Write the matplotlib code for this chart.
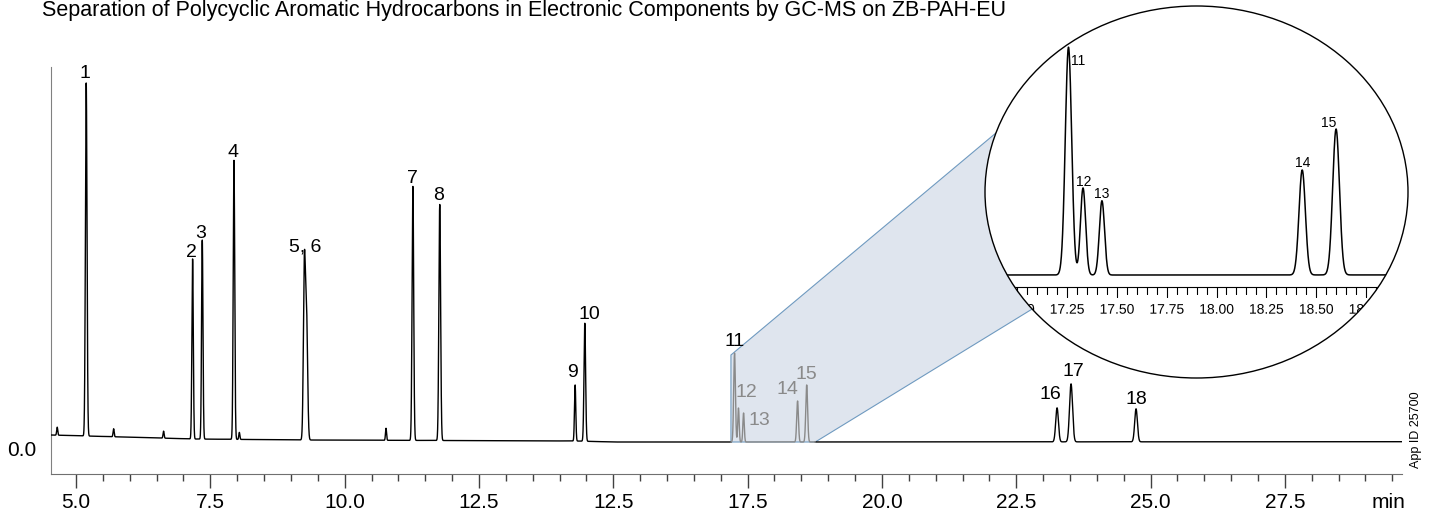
import numpy as np
import matplotlib.pyplot as plt
from matplotlib.patches import Ellipse, Polygon
import matplotlib.patheffects as pe

plt.rcParams['font.family'] = ['Liberation Sans', 'DejaVu Sans']

title = "Separation of Polycyclic Aromatic Hydrocarbons in Electronic Components by GC-MS on ZB-PAH-EU"

# numbered peaks: retention time (min), height above baseline, sigma (min)
peak_times = [5.19, 7.17, 7.35, 7.94, 9.25, 9.29, 11.27, 11.77, 14.29, 14.47,
              17.257, 17.33, 17.425, 18.43, 18.60, 23.26, 23.52, 24.73]
peak_heights = [353, 180, 199, 279, 170, 125, 254, 236, 56, 118,
                89, 34, 29, 41, 57, 34, 58, 33]
peak_widths = [0.015, 0.013, 0.013, 0.014, 0.018, 0.02, 0.015, 0.016, 0.012, 0.015,
               0.016, 0.013, 0.013, 0.016, 0.017, 0.025, 0.028, 0.025]

# small unlabelled bumps
minor_times = [4.65, 5.70, 6.63, 8.04, 10.77]
minor_heights = [8, 8, 7, 7, 12]

# baseline drift
baseline_t = [4.53, 5.2, 7.2, 9.3, 11.8, 14.3, 15.0, 17.5, 29.7]
baseline_v = [13, 12, 9, 8, 7.5, 7, 6, 6, 6.3]

# labels: text, index of peak they belong to
labels = ['1', '2', '3', '4', '5, 6', '7', '8', '9', '10', '11',
          '12', '13', '14', '15', '16', '17', '18']
label_peak = [0, 1, 2, 3, 4, 6, 7, 8, 9, 10, 11, 12, 13, 14, 15, 16, 17]
label_offsets = [(-0.7, 3.8), (-0.9, 1.4), (-1.4, 1.7), (-0.9, 2.2), (0.5, 1.2),
                 (0, 2.2), (-0.5, 3.6), (-1.7, 5.8), (3.6, 2.9), (0, 5.0),
                 (5.5, 7.9), (11.5, -8.6), (-7.0, 4.8), (0, 4.1),
                 (-4.8, 6.3), (1.7, 5.3), (0, 3.8)]
grey_labels = ['12', '13', '14', '15']

inset_labels = ['11', '12', '13', '14', '15']
inset_label_peak = [10, 11, 12, 13, 14]
inset_offsets = [(7, -12.5), (0.5, 1.4), (-0.2, 1.9), (0.5, 2.2), (-5.5, 1.4)]

xtick_pos = [5.0, 7.5, 10.0, 12.5, 15.0, 17.5, 20.0, 22.5, 25.0, 27.5]
xtick_text = ['5.0', '7.5', '10.0', '12.5', '12.5', '17.5', '20.0', '22.5', '25.0', '27.5']

inset_tick_pos = [17.0, 17.25, 17.5, 17.75, 18.0, 18.25, 18.5, 18.75]
zoom_range = (17.19, 18.76)

# trace
t = np.linspace(4.529, 29.68, 40000)
y = np.interp(t, baseline_t, baseline_v)
for tr, h, s in zip(peak_times, peak_heights, peak_widths):
    y = y + h * np.exp(-0.5 * ((t - tr) / s) ** 2)
for tr, h in zip(minor_times, minor_heights):
    y = y + h * np.exp(-0.5 * ((t - tr) / 0.01) ** 2)

W, H = 1435, 517
fig = plt.figure(figsize=(W / 100, H / 100), dpi=100)

ax = fig.add_axes([50.7 / W, 1 - 474 / H, 1351.3 / W, 407 / H])
ax.set_facecolor('none')
ax.set_xlim(4.529, 29.68)
ax.set_ylim(-26, 381)

inside = (t >= zoom_range[0]) & (t <= zoom_range[1])
ax.plot(t, np.where(inside, np.nan, y), color='black', lw=1.0, zorder=3)
ax.plot(t, np.where(inside, y, np.nan), color='#8a8a8a', lw=1.0, zorder=3)

for lab, pi, (dx, dy) in zip(labels, label_peak, label_offsets):
    tp = peak_times[pi]
    col = '#8a8a8a' if lab in grey_labels else 'black'
    ax.annotate(lab, xy=(tp, np.interp(tp, t, y)), xytext=(dx, dy),
                textcoords='offset points', ha='center', va='baseline',
                fontsize=14, color=col, zorder=4)

for side in ['top', 'right']:
    ax.spines[side].set_visible(False)
ax.spines['left'].set_color('#808080')
ax.spines['bottom'].set_color('#707070')
ax.set_xticks(xtick_pos)
ax.set_xticklabels(xtick_text)
ax.set_xticks(np.arange(5.5, 29.6, 0.5), minor=True)
ax.tick_params(axis='x', which='major', length=10, width=1, color='#404040',
               labelsize=15, pad=3.5)
ax.tick_params(axis='x', which='minor', length=5.3, width=1, color='#404040')
ax.set_yticks([0])
ax.set_yticklabels(['0.0'])
ax.tick_params(axis='y', length=0, labelsize=15, pad=10)
ax.text(29.43, -0.0688, 'min', transform=ax.get_xaxis_transform(),
        ha='center', va='center', fontsize=15)

# inset
ax_in = fig.add_axes([985 / W, 1 - 378 / H, 423 / W, 372 / H], zorder=3)
ax_in.set_xlim(16.838, 18.961)
ax_in.set_ylim(-34.23, 111.08)
ax_in.patch.set_visible(False)
clip = Ellipse((0.5, 0.5), 1, 1, transform=ax_in.transAxes)
ax_in.add_patch(Ellipse((0.5, 0.5), 1, 1, transform=ax_in.transAxes,
                        facecolor='white', edgecolor='none', zorder=0, clip_on=False))
ax_in.add_patch(Ellipse((0.5, 0.5), 1, 1, transform=ax_in.transAxes,
                        facecolor='none', edgecolor='black', lw=1.0, zorder=10, clip_on=False))
sel = (t > 16.8) & (t < 19.0)
line, = ax_in.plot(t[sel], y[sel], color='black', lw=1.1, zorder=3)
line.set_clip_path(clip)

for lab, pi, (dx, dy) in zip(inset_labels, inset_label_peak, inset_offsets):
    tp = peak_times[pi]
    ax_in.annotate(lab, xy=(tp, np.interp(tp, t, y)), xytext=(dx, dy),
                   textcoords='offset points', ha='center', va='baseline',
                   fontsize=10, color='black', zorder=4)

for side in ['top', 'right', 'left']:
    ax_in.spines[side].set_visible(False)
ax_in.spines['bottom'].set_position(('data', 1.43))
ax_in.spines['bottom'].set_clip_path(clip)
ax_in.set_yticks([])
ax_in.set_xticks(inset_tick_pos)
ax_in.set_xticklabels([f'{v:.2f}' for v in inset_tick_pos])
ax_in.set_xticks(np.arange(16.85, 18.96, 0.05), minor=True)
ax_in.tick_params(axis='x', which='major', length=7.5, width=0.8, labelsize=10, pad=4)
ax_in.tick_params(axis='x', which='minor', length=4.8, width=0.8)
for tk in ax_in.xaxis.get_major_ticks() + ax_in.xaxis.get_minor_ticks():
    tk.tick1line.set_clip_path(clip)
    tk.label1.set_clip_path(clip)
    # drawn as a path so the ellipse clip applies to the text too
    tk.label1.set_path_effects([pe.Normal()])

# connector from the zoomed window to the inset
to_fig = fig.transFigure.inverted()
p_main = ax.transData.transform([(zoom_range[0], 6), (zoom_range[0], 93), (zoom_range[1], 6)])
a1, a2 = np.radians(161.5), np.radians(219)
p_in = ax_in.transAxes.transform([(0.5 + 0.5 * np.cos(a1), 0.5 + 0.5 * np.sin(a1)),
                                  (0.5 + 0.5 * np.cos(a2), 0.5 + 0.5 * np.sin(a2))])
verts = to_fig.transform([p_main[0], p_main[1], p_in[0], p_in[1], p_main[2]])
ax.add_patch(Polygon(verts, closed=True, transform=fig.transFigure, facecolor='#dfe5ee',
                     edgecolor='#6f9ac0', lw=0.8, zorder=1, clip_on=False))

fig.text(42 / W, 1 - 16 / H, title, fontsize=15.5, va='baseline', ha='left')
fig.text(1416 / W, 1 - 430 / H, 'App ID 25700', rotation=90, fontsize=9,
         ha='center', va='center')

fig.savefig('out.png', dpi=100)
